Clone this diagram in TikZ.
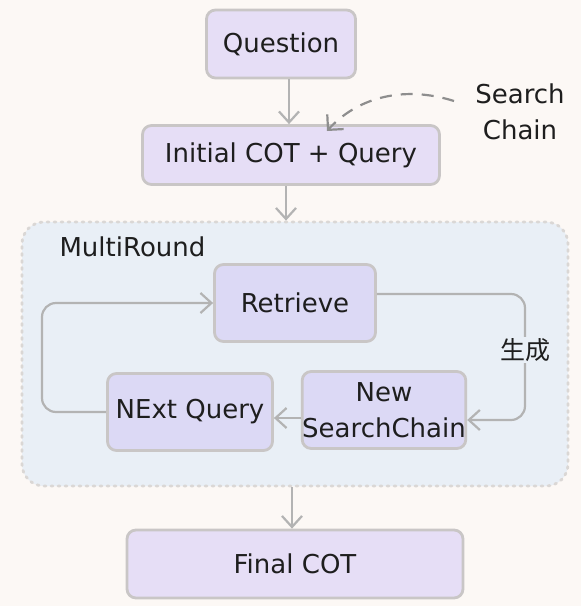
\documentclass[tikz,border=0pt]{standalone}
\usepackage{fontspec}
\setmainfont{DejaVu Sans}
\newfontfamily\cjk{Noto Sans CJK SC}
\usetikzlibrary{arrows.meta,positioning}
\definecolor{bg}{HTML}{FCF8F5}
\definecolor{boxfill}{HTML}{E6DEF6}
\definecolor{innerfill}{HTML}{DCD9F5}
\definecolor{boxline}{HTML}{C9C6C6}
\definecolor{arrowc}{HTML}{B3B3B3}
\definecolor{dashc}{HTML}{8E8E8E}
\definecolor{groupfill}{HTML}{E9EFF6}
\definecolor{groupline}{HTML}{DAD7D5}
\definecolor{txt}{HTML}{1E1E1E}
\tikzset{
  every node/.style={text=txt},
  box/.style={draw=boxline, line width=2.8pt, fill=boxfill, rounded corners=9pt, align=center, inner sep=0pt, font=\fontsize{26}{36}\selectfont},
  innerbox/.style={box, fill=innerfill},
  conn/.style={draw=arrowc, line width=2.2pt, -{Straight Barb[length=11pt,width=20pt,line width=2.2pt]}},
  lbl/.style={font=\fontsize{26}{36}\selectfont, align=center},
}
\begin{document}
\begin{tikzpicture}[x=1pt,y=-1pt]
\useasboundingbox[fill=bg] (0,0) rectangle (581,606);
% group
\node[draw=groupline, line width=2.8pt, dash pattern=on 2pt off 5pt, line cap=round, fill=groupfill, rounded corners=22pt, minimum width=546pt, minimum height=264pt, inner sep=0pt] (group) at (295,354) {};
\node[lbl, anchor=west] (mr) at (56,247) {MultiRound};
% boxes
\node[box, minimum width=149pt, minimum height=68pt] (q) at (281,44) {Question};
\node[box, minimum width=297pt, minimum height=59pt] (init) at (291,155) {Initial COT + Query};
\node[lbl] (sc) at (520,112) {Search\\Chain};
\node[innerbox, minimum width=161pt, minimum height=77pt] (ret) at (295,303) {Retrieve};
\node[innerbox, minimum width=162pt, minimum height=77pt] (nsc) at (384,410) {New\\SearchChain};
\node[innerbox, minimum width=165pt, minimum height=77pt] (nq) at (190,412) {NExt Query};
\node[box, minimum width=336pt, minimum height=68pt] (fin) at (295,564) {Final COT};
% connectors
\coordinate (dstart) at (454,101);
\draw[conn] (q.south -| 289,0) -- (init.north -| 289,0);
\draw[draw=dashc, line width=2.2pt, dash pattern=on 12pt off 9pt, -{Straight Barb[length=11pt,width=22pt,line width=2.2pt]}] (dstart) .. controls (400,84) and (355,100) .. (327,131);
\draw[conn] (init.south -| 286,0) -- (group.north -| 286,0);
\coordinate (r1) at (525,294);
\coordinate (r2) at (525,420);
\draw[conn, rounded corners=14pt] (ret.east |- r1) -- (r1) -- (r2) -- (nsc.east |- r2);
\node[font=\cjk\fontsize{25}{28}\selectfont, fill=groupfill, inner sep=1pt] (gen) at (525,350) {生成};
\draw[conn] (nsc.west |- 0,418) -- (nq.east |- 0,418);
\coordinate (l1) at (42,412);
\coordinate (l2) at (42,303);
\draw[conn, rounded corners=14pt] (nq.west |- l1) -- (l1) -- (l2) -- (ret.west |- l2);
\draw[conn] (group.south -| 292,0) -- (fin.north -| 292,0);
\end{tikzpicture}
\end{document}
